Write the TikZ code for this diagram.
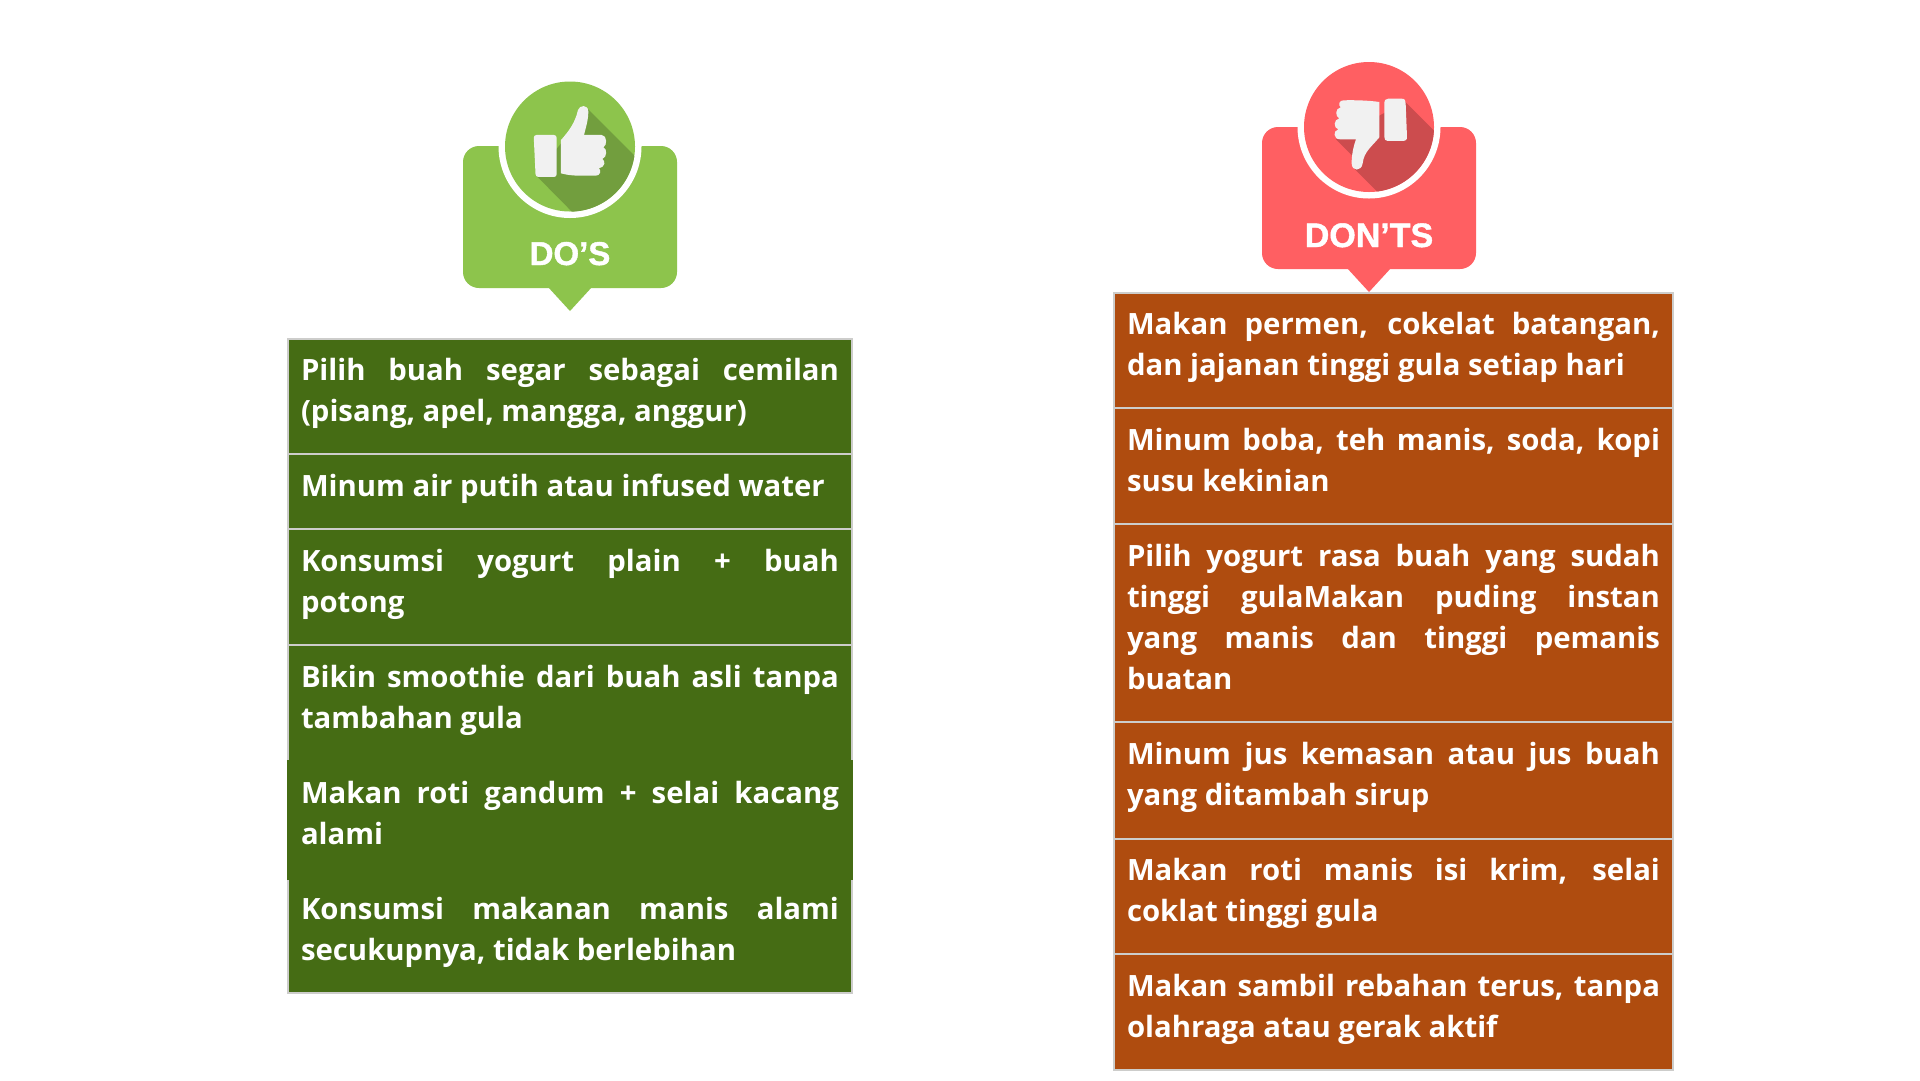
\documentclass[tikz,border=0pt]{standalone}
\usepackage{fontspec}
\setmainfont{Open Sans}
\newfontfamily\badgefont[BoldFeatures={FakeBold=1.2}]{Liberation Sans}
\definecolor{dogreen}{HTML}{456C14}
\definecolor{dontbrown}{HTML}{AF4C0F}
\definecolor{rowline}{HTML}{CDCDCB}
\definecolor{badgegreen}{HTML}{8DC44C}
\definecolor{shadegreen}{HTML}{729E3E}
\definecolor{badgered}{HTML}{FF5F62}
\definecolor{shadered}{HTML}{CC4C4E}
\definecolor{iconwhite}{HTML}{F1F1F1}
\tikzset{
  x=1pt,y=-1pt,
  rowbox/.style={anchor=north west,inner xsep=13pt,inner ysep=0pt,outer sep=0pt,draw=rowline,line width=2pt,text=white},
  badgetext/.style={anchor=base,inner sep=0pt,text=white,font=\badgefont\bfseries\fontsize{33pt}{33pt}\selectfont},
}
% [first baseline], name, x, y, height, width of text, fill, text
\newcommand{\rowitem}[8][41]{%
  \node[rowbox,fill=#7] (#2) at (#3,#4) {\parbox[c][#5pt][t]{#6pt}{%
    \fontsize{29.33pt}{41pt}\selectfont\bfseries\tolerance=10000\hyphenpenalty=10000\hbadness=10000\hfuzz=20pt
    \rule{0pt}{#1pt}#8}};}
\begin{document}
\begin{tikzpicture}
\useasboundingbox (0,0) rectangle (1920,1080);
\fill[white] (0,0) rectangle (1920,1080);

% ---- DO'S badge
\fill[badgegreen,rounded corners=16pt] (463,146) rectangle (677,288);
\fill[badgegreen] (548,287) -- (592,287) -- (570,311) -- cycle;
\fill[white] (570,146.5) circle (71.5);
\fill[badgegreen] (570,146.5) circle (65);
\begin{scope}[shift={(440,60)},x=0.3333pt,y=-0.3333pt]
  \begin{scope}
    \clip (390,260) circle (195);
    \fill[shadegreen] (445,148) -- (620,323) -- (620,500) -- (440,500) -- (287,345) -- cycle;
  \end{scope}
  \fill[iconwhite,rounded corners=2.7pt] (281,225) -- (350,225) -- (350,351) -- (287,351) -- cycle;
  \fill[iconwhite] (363,240) .. controls (385,215) and (405,190) .. (414,150)
    .. controls (418,135) and (445,132) .. (445,155)
    .. controls (445,180) and (437,205) .. (432,225) -- (485,225)
    .. controls (502,225) and (502,258) .. (490,262)
    .. controls (502,265) and (502,292) .. (487,297)
    .. controls (498,302) and (495,322) .. (477,325)
    .. controls (485,332) and (480,347) .. (468,347)
    -- (420,347) .. controls (400,347) and (380,345) .. (363,340) -- cycle;
\end{scope}
\node[badgetext] (dos) at (570,265) {DO’S};

% ---- DON'TS badge
\fill[badgered,rounded corners=16pt] (1262,127) rectangle (1476,269);
\fill[badgered] (1347,268) -- (1391,268) -- (1369,292) -- cycle;
\fill[white] (1369,127) circle (71.5);
\fill[badgered] (1369,127) circle (65);
\begin{scope}[shift={(1240,40)},x=0.3333pt,y=-0.3333pt]
  \begin{scope}
    \clip (387,261) circle (195);
    \fill[shadered] (495,185) -- (620,310) -- (620,500) -- (457,500) -- (345,388) -- (335,345) -- (288,298) -- cycle;
  \end{scope}
  \fill[iconwhite] (445,176) -- (485,176) .. controls (495,176) and (497,182) .. (497,190)
    -- (501,290) .. controls (501,300) and (497,303) .. (490,303)
    -- (443,303) .. controls (436,303) and (433,298) .. (433,290) -- (433,190)
    .. controls (433,180) and (438,176) .. (445,176) -- cycle;
  \fill[iconwhite] (418,186) .. controls (385,181) and (340,180) .. (310,181)
    .. controls (298,181) and (293,195) .. (302,202)
    .. controls (285,205) and (285,230) .. (298,235)
    .. controls (280,238) and (280,265) .. (295,268)
    .. controls (278,272) and (280,298) .. (300,298)
    -- (348,298) .. controls (340,320) and (335,345) .. (335,370)
    .. controls (335,395) and (365,395) .. (368,370)
    .. controls (372,335) and (395,320) .. (418,292) -- cycle;
\end{scope}
\node[badgetext,font=\badgefont\bfseries\fontsize{34pt}{34pt}\selectfont] (donts) at (1369,247) {DON’TS};

% ---- DO'S rows
\rowitem{a1}{288}{339}{115}{538}{dogreen}{Pilih buah segar sebagai cemilan\linebreak (pisang, apel, mangga, anggur)}
\rowitem[42.2]{a2}{288}{454}{75}{538}{dogreen}{Minum air putih atau infused water}
\rowitem[42.2]{a3}{288}{529}{116}{538}{dogreen}{Konsumsi yogurt plain + buah\linebreak potong}
\rowitem[42.2]{a4}{288}{645}{116}{538}{dogreen}{Bikin smoothie dari buah asli tanpa\linebreak tambahan gula}
\rowitem{a6}{288}{878}{115}{538}{dogreen}{Konsumsi makanan manis alami\linebreak secukupnya, tidak berlebihan}
\node[rowbox,draw=none,inner xsep=14pt,fill=dogreen] (a5) at (287,760) {\parbox[c][119.5pt][t]{538pt}{%
    \fontsize{29.33pt}{41pt}\selectfont\bfseries\tolerance=10000\hyphenpenalty=10000\hbadness=10000
    \rule{0pt}{43pt}Makan roti gandum + selai kacang\linebreak alami}};

% ---- DON'TS rows
\rowitem{b1}{1114}{293}{115}{533}{dontbrown}{Makan permen, cokelat batangan,\linebreak dan jajanan tinggi gula setiap hari}
\rowitem[42]{b2}{1114}{408}{116}{533}{dontbrown}{Minum boba, teh manis, soda, kopi\linebreak susu kekinian}
\rowitem[42]{b3}{1114}{524}{198}{533}{dontbrown}{Pilih yogurt rasa buah yang sudah\linebreak tinggi gulaMakan puding instan\linebreak yang manis dan tinggi pemanis\linebreak buatan}
\rowitem[42]{b4}{1114}{722}{117}{533}{dontbrown}{Minum jus kemasan atau jus buah\linebreak yang ditambah sirup}
\rowitem{b5}{1114}{839}{115}{533}{dontbrown}{Makan roti manis isi krim, selai\linebreak coklat tinggi gula}
\rowitem[42]{b6}{1114}{954}{116}{533}{dontbrown}{Makan sambil rebahan terus, tanpa\linebreak olahraga atau gerak aktif}
\end{tikzpicture}
\end{document}
